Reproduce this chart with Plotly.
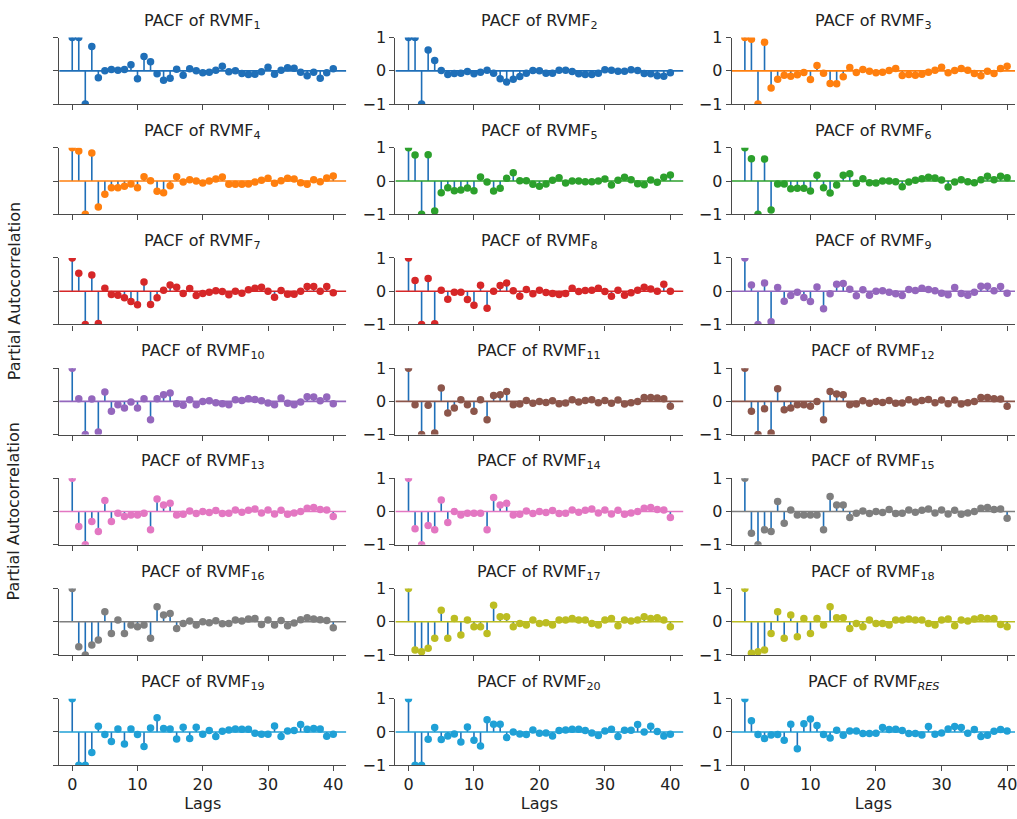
import plotly.graph_objects as go

# ---- data: partial autocorrelation of each RVMF component, lags 0..40 ----
lags = list(range(41))

rvmf1 = [1, 1, -1, 0.73, -0.21, 0.0, 0.04, 0.02, 0.04, 0.18, -0.24, 0.43, 0.27, -0.09, -0.28, -0.22,
         0.05, -0.13, 0.06, 0.0, -0.06, -0.04, 0.02, 0.14, -0.03, 0.0, -0.08, -0.11, -0.10, -0.03,
         0.11, -0.10, 0.02, 0.09, 0.08, -0.04, -0.15, -0.04, -0.22, -0.06, 0.06]
rvmf2 = [1, 1, -1, 0.63, 0.31, 0.01, -0.11, -0.08, -0.07, -0.02, -0.09, -0.04, 0.02, -0.07, -0.24, -0.34,
         -0.25, -0.17, -0.07, 0.01, 0.0, -0.07, -0.07, 0.02, 0.02, -0.02, -0.09, -0.11, -0.11, -0.07,
         0.03, 0.02, -0.01, -0.01, 0.03, 0.01, -0.08, -0.09, -0.15, -0.16, -0.06]
rvmf3 = [1, 0.95, -1, 0.86, -0.52, -0.25, -0.13, -0.16, -0.12, -0.05, -0.26, 0.16, -0.07, -0.38, -0.39, -0.18,
         0.10, -0.05, 0.04, -0.01, -0.06, -0.04, 0.01, 0.07, -0.14, -0.11, -0.13, -0.10, -0.04, 0.02,
         0.11, -0.06, 0.01, 0.07, 0.02, -0.08, -0.15, -0.01, -0.08, 0.07, 0.14]
rvmf4 = [1, 0.90, -1, 0.84, -0.78, -0.40, -0.20, -0.20, -0.16, -0.09, -0.20, 0.13, 0.01, -0.31, -0.35, -0.14,
         0.13, -0.03, 0.04, 0.0, -0.06, 0.0, 0.06, 0.12, -0.10, -0.10, -0.10, -0.09, -0.03, 0.02,
         0.08, -0.07, 0.01, 0.08, 0.06, -0.05, -0.10, 0.04, -0.02, 0.09, 0.15]
rvmf5 = [1, 0.78, -1, 0.79, -0.90, -0.35, -0.20, -0.29, -0.27, -0.21, -0.29, 0.12, -0.03, -0.30, -0.22, 0.08,
         0.25, 0.01, 0.01, -0.10, -0.16, -0.09, 0.02, 0.10, -0.06, 0.0, 0.0, -0.02, -0.02, 0.0,
         0.06, -0.12, 0.02, 0.11, 0.04, -0.08, -0.11, 0.03, -0.04, 0.11, 0.18]
rvmf6 = [1, 0.67, -1, 0.66, -0.87, -0.09, -0.09, -0.23, -0.22, -0.22, -0.30, 0.17, -0.20, -0.36, -0.12, 0.17,
         0.22, -0.07, 0.07, -0.05, -0.06, 0.0, 0.0, -0.02, -0.17, -0.03, 0.02, 0.07, 0.11, 0.09,
         0.03, -0.18, -0.03, 0.04, -0.02, -0.05, 0.04, 0.14, 0.04, 0.14, 0.10]
rvmf7 = [1, 0.54, -1, 0.49, -0.97, 0.09, -0.10, -0.12, -0.20, -0.31, -0.41, 0.28, -0.40, -0.20, 0.03, 0.19,
         0.12, -0.07, 0.08, -0.13, -0.07, -0.03, 0.01, -0.01, -0.11, 0.0, -0.06, 0.04, 0.09, 0.12,
         0.0, -0.18, 0.02, -0.09, -0.09, 0.0, 0.14, 0.14, 0.0, 0.14, -0.05]
rvmf8 = [1, 0.32, -1, 0.38, -0.98, 0.03, -0.24, -0.03, -0.03, -0.25, -0.42, 0.18, -0.51, 0.0, 0.17, 0.25,
         0.01, -0.15, 0.05, -0.08, 0.03, -0.04, -0.07, -0.10, -0.07, 0.09, -0.01, 0.02, 0.03, 0.09,
         -0.01, -0.15, 0.03, -0.12, -0.05, 0.03, 0.12, 0.07, 0.0, 0.21, 0.0]
rvmf9 = [1, 0.19, -1, 0.25, -0.92, 0.11, -0.30, -0.13, -0.03, -0.19, -0.31, 0.13, -0.53, -0.08, 0.21, 0.23,
         0.06, -0.14, 0.04, -0.12, 0.0, 0.01, -0.03, -0.08, -0.13, 0.05, 0.02, 0.09, 0.05, 0.01,
         -0.06, -0.11, 0.11, -0.07, -0.12, -0.03, 0.15, 0.15, 0.01, 0.14, -0.06]
rvmf10 = [1, 0.08, -1, 0.07, -0.92, 0.28, -0.30, -0.10, -0.20, -0.02, -0.20, 0.08, -0.55, 0.08, 0.20, 0.25,
          -0.07, -0.12, 0.05, -0.10, 0.0, 0.02, -0.04, -0.07, -0.10, 0.05, 0.03, 0.08, 0.06, 0.02,
          -0.05, -0.10, 0.10, -0.06, -0.10, -0.02, 0.14, 0.13, 0.02, 0.13, -0.07]
rvmf11 = [1, -0.10, -1, -0.12, -0.95, 0.40, -0.35, -0.20, 0.05, -0.10, -0.30, 0.05, -0.55, 0.18, 0.20, 0.30,
          -0.10, -0.08, 0.03, -0.06, 0.0, -0.03, 0.02, -0.07, -0.05, 0.05, -0.02, 0.03, 0.05, -0.04,
          0.03, -0.06, 0.04, -0.08, -0.04, 0.0, 0.12, 0.12, 0.10, 0.08, -0.15]
rvmf12 = [1, -0.30, -1, -0.22, -0.95, 0.38, -0.25, -0.20, -0.10, -0.10, -0.15, 0.0, -0.55, 0.30, 0.22, 0.20,
          -0.10, -0.08, 0.02, -0.06, 0.0, -0.03, 0.03, -0.06, -0.05, 0.05, -0.02, 0.03, 0.06, -0.04,
          0.04, -0.07, 0.04, -0.08, -0.04, 0.0, 0.12, 0.12, 0.08, 0.07, -0.15]
rvmf13 = [1, -0.45, -1, -0.30, -0.60, 0.33, -0.30, -0.05, -0.15, -0.10, -0.10, -0.05, -0.55, 0.38, 0.20, 0.25,
          -0.10, -0.08, 0.02, -0.06, 0.0, -0.03, 0.03, -0.06, -0.05, 0.05, -0.02, 0.04, 0.08, -0.04,
          0.05, -0.07, 0.04, -0.08, -0.04, 0.0, 0.10, 0.12, 0.06, 0.05, -0.15]
rvmf14 = [1, -0.52, -1, -0.42, -0.55, 0.35, -0.33, 0.0, -0.10, -0.05, -0.05, -0.05, -0.55, 0.42, 0.20, 0.25,
          -0.10, -0.08, 0.02, -0.06, 0.0, -0.03, 0.03, -0.06, -0.05, 0.05, -0.02, 0.04, 0.08, -0.04,
          0.05, -0.07, 0.04, -0.08, -0.04, 0.0, 0.10, 0.12, 0.06, 0.05, -0.18]
rvmf15 = [1, -0.65, -1, -0.55, -0.60, 0.30, -0.35, 0.05, -0.10, -0.10, -0.10, -0.10, -0.55, 0.45, 0.20, 0.20,
          -0.18, -0.05, 0.02, -0.06, 0.0, -0.03, 0.06, -0.06, -0.05, 0.05, -0.02, 0.04, 0.08, -0.04,
          0.05, -0.07, 0.04, -0.08, -0.04, 0.0, 0.10, 0.12, 0.06, 0.08, -0.20]
rvmf16 = [1, -0.75, -1, -0.70, -0.55, 0.30, -0.35, 0.05, -0.35, -0.10, -0.15, -0.10, -0.50, 0.45, 0.20, 0.25,
          -0.20, -0.05, 0.02, -0.10, 0.0, -0.03, 0.03, -0.06, -0.05, 0.05, 0.02, 0.08, 0.10, -0.08,
          0.05, -0.10, 0.04, -0.12, -0.04, 0.06, 0.12, 0.08, 0.06, 0.04, -0.18]
rvmf17 = [1, -0.85, -0.90, -0.80, -0.50, 0.35, -0.50, 0.10, -0.40, 0.05, -0.15, -0.15, -0.35, 0.50, 0.15, 0.15,
          -0.15, -0.05, -0.10, 0.05, -0.05, -0.03, -0.10, 0.05, 0.05, 0.10, 0.05, 0.05, -0.05, -0.10,
          0.05, 0.10, -0.12, 0.05, 0.02, 0.05, 0.15, 0.10, 0.12, 0.05, -0.15]
rvmf18 = [1, -0.95, -0.90, -0.85, -0.35, 0.30, -0.50, 0.20, -0.45, 0.10, -0.35, 0.10, -0.10, 0.45, 0.12, 0.12,
          -0.20, -0.05, -0.15, 0.05, -0.05, -0.05, -0.10, 0.05, 0.05, 0.08, 0.05, 0.05, -0.05, -0.10,
          0.05, 0.08, -0.12, 0.05, 0.02, 0.08, 0.12, 0.10, 0.10, -0.08, -0.15]
rvmf19 = [1, -1, -1, -0.62, 0.17, -0.08, -0.29, 0.09, -0.36, 0.09, -0.08, -0.44, 0.12, 0.43, 0.10, 0.09,
          -0.21, 0.14, -0.20, 0.14, -0.07, 0.04, -0.14, 0.02, 0.06, 0.09, 0.08, 0.08, -0.04, -0.07,
          -0.07, 0.18, -0.14, 0.03, 0.04, 0.22, 0.08, 0.10, 0.09, -0.13, -0.07]
rvmf20 = [1, -1, -1, -0.22, 0.13, -0.23, -0.12, -0.06, -0.30, 0.15, -0.25, -0.42, 0.37, 0.23, 0.23, -0.17,
          0.0, -0.06, -0.08, 0.06, -0.04, -0.03, -0.12, 0.04, 0.06, 0.08, 0.08, 0.04, -0.03, -0.11,
          0.03, 0.08, -0.14, 0.05, 0.05, 0.22, 0.0, 0.17, 0.01, -0.12, -0.07]
rvmf_res = [1, 0.34, -0.08, -0.20, -0.09, -0.08, -0.25, 0.23, -0.51, 0.25, 0.39, 0.19, -0.08, -0.18, 0.05, -0.10,
            0.03, 0.03, -0.05, -0.05, -0.04, 0.13, 0.07, 0.08, 0.04, -0.05, -0.05, -0.09, 0.16, -0.07,
            -0.03, 0.09, 0.16, 0.13, -0.04, 0.07, -0.14, -0.10, 0.02, 0.07, 0.03]

subscripts = [str(i) for i in range(1, 21)] + ["<i>RES</i>"]
series = [rvmf1, rvmf2, rvmf3, rvmf4, rvmf5, rvmf6, rvmf7, rvmf8, rvmf9, rvmf10, rvmf11,
          rvmf12, rvmf13, rvmf14, rvmf15, rvmf16, rvmf17, rvmf18, rvmf19, rvmf20, rvmf_res]

# colour of markers and zero line for each component
colors = ["#1f6fb8", "#1f6fb8", "#ff7f0e", "#ff7f0e", "#2ca02c", "#2ca02c", "#d62728", "#d62728",
          "#9467bd", "#9467bd", "#8c564b", "#8c564b", "#e377c2", "#e377c2", "#7f7f7f", "#7f7f7f",
          "#bcbd22", "#bcbd22", "#1fa0d6", "#1fa0d6", "#1fa0d6"]
STEM_COLOR = "#1f6fb8"

x_ticks = [0, 10, 20, 30, 40]
y_ticks = [-1, 0, 1]

# ---- layout geometry (pixels) ----
W, H = 1017, 819
col_left = [59.3, 396.2, 733.2]
col_right = [347.0, 684.8, 1017.0]
col_xrange = [[-2, 42], [-2, 42], [-2, 41.2]]
row_top0, row_step, ax_h = 29.3, 112.8, 68.0
n_rows, n_cols = 7, 3

FONT = "DejaVu Sans"
AXIS_COLOR = "#4a4a4a"
TEXT_COLOR = "#222222"

fig = go.Figure()
annotations = []
layout_axes = {}

for k, vals in enumerate(series):
    r, c = divmod(k, n_cols)
    idx = k + 1
    xa = "x" if idx == 1 else f"x{idx}"
    ya = "y" if idx == 1 else f"y{idx}"
    xr = col_xrange[c]
    top = row_top0 + r * row_step

    # stems
    sx, sy = [], []
    for lg, v in zip(lags, vals):
        sx += [lg, lg, None]
        sy += [0, v, None]
    fig.add_trace(go.Scatter(x=sx, y=sy, mode="lines", xaxis=xa, yaxis=ya,
                             line=dict(color=STEM_COLOR, width=1.6), hoverinfo="skip",
                             showlegend=False))
    # zero line
    fig.add_trace(go.Scatter(x=[xr[0], xr[1]], y=[0, 0], mode="lines", xaxis=xa, yaxis=ya,
                             line=dict(color=colors[k], width=1.6), hoverinfo="skip",
                             showlegend=False))
    # markers
    fig.add_trace(go.Scatter(x=lags, y=vals, mode="markers", xaxis=xa, yaxis=ya,
                             marker=dict(color=colors[k], size=7.5, line=dict(width=0)),
                             showlegend=False, cliponaxis=True))

    xdom = [col_left[c] / W, col_right[c] / W]
    ydom = [1 - (top + ax_h) / H, 1 - top / H]
    bottom_row = (r == n_rows - 1)

    layout_axes["xaxis" if idx == 1 else f"xaxis{idx}"] = dict(
        domain=xdom, anchor=ya, range=xr, showgrid=False, zeroline=False,
        showline=True, linecolor=AXIS_COLOR, linewidth=1.3,
        ticks="outside", ticklen=5, tickwidth=1.3, tickcolor=AXIS_COLOR,
        tickvals=x_ticks, showticklabels=bottom_row, ticklabeloverflow="allow",
        tickfont=dict(family=FONT, size=16, color=TEXT_COLOR),
        title=dict(text="Lags", font=dict(family=FONT, size=16, color=TEXT_COLOR), standoff=4) if bottom_row else None,
    )
    layout_axes["yaxis" if idx == 1 else f"yaxis{idx}"] = dict(
        domain=ydom, anchor=xa, range=[-1, 1], showgrid=False, zeroline=False,
        showline=True, linecolor=AXIS_COLOR, linewidth=1.3,
        ticks="outside", ticklen=5, tickwidth=1.3, tickcolor=AXIS_COLOR,
        tickvals=y_ticks, showticklabels=(c != 0),
        tickfont=dict(family=FONT, size=16, color=TEXT_COLOR),
    )

    annotations.append(dict(
        text=f"PACF of RVMF<sub>{subscripts[k]}</sub>", xref="paper", yref="paper",
        x=(xdom[0] + xdom[1]) / 2, y=1 - (top - 4) / H, xanchor="center", yanchor="bottom",
        showarrow=False, font=dict(family=FONT, size=16, color=TEXT_COLOR)))

# y-axis label, repeated beside the 3rd and 5th rows
for r in (2, 4):
    center = row_top0 + r * row_step + ax_h / 2
    annotations.append(dict(
        text="Partial Autocorrelation", xref="paper", yref="paper",
        x=14 / W, y=1 - center / H, xanchor="center", yanchor="middle",
        textangle=-90, showarrow=False, font=dict(family=FONT, size=16, color=TEXT_COLOR)))

fig.update_layout(
    width=W, height=H, autosize=False,
    margin=dict(l=0, r=0, t=0, b=0),
    paper_bgcolor="white", plot_bgcolor="white",
    annotations=annotations,
    **layout_axes,
)

fig.write_html("out.html")
